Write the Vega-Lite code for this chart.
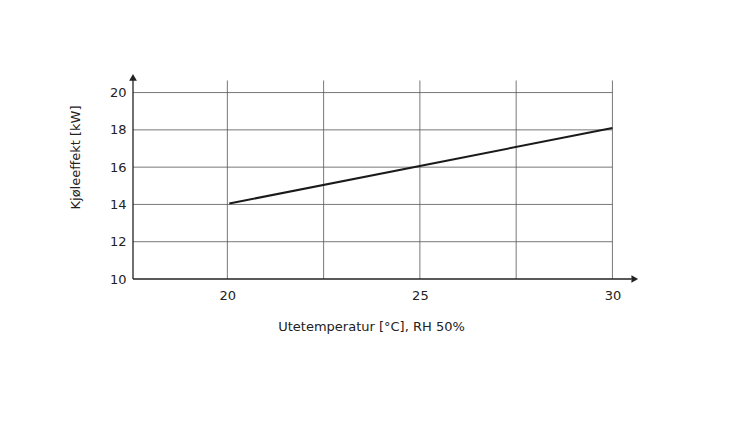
{
  "$schema": "https://vega.github.io/schema/vega-lite/v6.json",
  "autosize": {"type": "none"},
  "padding": {"left": 133, "top": 73, "right": 111, "bottom": 157},
  "width": 506,
  "height": 206,
  "background": "white",
  "config": {"view": {"stroke": null}, "font": "DejaVu Sans"},
  "datasets": {
    "curve": [
      {"temp": 20.05, "kw": 14.05},
      {"temp": 30, "kw": 18.1}
    ],
    "hgrid": [{"kw": 12}, {"kw": 14}, {"kw": 16}, {"kw": 18}, {"kw": 20}],
    "vgrid": [{"temp": 20}, {"temp": 22.5}, {"temp": 25}, {"temp": 27.5}, {"temp": 30}]
  },
  "layer": [
    {
      "data": {"name": "hgrid"},
      "mark": {"type": "rule", "stroke": "#555555", "strokeWidth": 0.8},
      "encoding": {
        "y": {"field": "kw", "type": "quantitative", "scale": {"domain": [10, 21.05], "nice": false, "zero": false},
          "axis": {"values": [10, 12, 14, 16, 18, 20], "domain": false, "ticks": false, "grid": false, "labelFontSize": 13, "labelColor": "#222222", "labelPadding": 7,
            "title": "Kjøleeffekt [kW]", "titleFontSize": 13, "titleFontWeight": "normal", "titleColor": "#222222", "titleX": -51, "titleY": 84}},
        "x": {"datum": 17.55, "type": "quantitative", "scale": {"domain": [17.55, 30.69], "nice": false, "zero": false},
          "axis": {"values": [20, 25, 30], "domain": false, "ticks": false, "grid": false, "labelFontSize": 13, "labelColor": "#222222", "labelPadding": 10,
            "title": "Utetemperatur [°C], RH 50%", "titleFontSize": 13, "titleFontWeight": "normal", "titleColor": "#222222", "titleX": 238, "titleY": 47, "titleBaseline": "middle"}},
        "x2": {"datum": 30}
      }
    },
    {
      "data": {"name": "vgrid"},
      "mark": {"type": "rule", "stroke": "#555555", "strokeWidth": 0.8},
      "encoding": {
        "x": {"field": "temp", "type": "quantitative"},
        "y": {"datum": 10, "type": "quantitative"},
        "y2": {"datum": 20.65}
      }
    },
    {
      "data": {"values": [{}]},
      "mark": {"type": "rule", "stroke": "#222222", "strokeWidth": 1.3},
      "encoding": {
        "x": {"datum": 17.55, "type": "quantitative"},
        "y": {"datum": 10, "type": "quantitative"},
        "y2": {"datum": 20.8}
      }
    },
    {
      "data": {"values": [{}]},
      "mark": {"type": "rule", "stroke": "#222222", "strokeWidth": 1.3},
      "encoding": {
        "x": {"datum": 17.55, "type": "quantitative"},
        "x2": {"datum": 30.5},
        "y": {"datum": 10, "type": "quantitative"}
      }
    },
    {
      "data": {"values": [{}]},
      "mark": {"type": "point", "shape": "triangle-up", "filled": true, "color": "#222222", "size": 60, "opacity": 1},
      "encoding": {
        "x": {"datum": 17.55, "type": "quantitative"},
        "y": {"datum": 20.82, "type": "quantitative"}
      }
    },
    {
      "data": {"values": [{}]},
      "mark": {"type": "point", "shape": "triangle-right", "filled": true, "color": "#222222", "size": 60, "opacity": 1},
      "encoding": {
        "x": {"datum": 30.58, "type": "quantitative"},
        "y": {"datum": 10, "type": "quantitative"}
      }
    },
    {
      "data": {"name": "curve"},
      "mark": {"type": "line", "stroke": "#1a1a1a", "strokeWidth": 2},
      "encoding": {
        "x": {"field": "temp", "type": "quantitative"},
        "y": {"field": "kw", "type": "quantitative"}
      }
    }
  ]
}
